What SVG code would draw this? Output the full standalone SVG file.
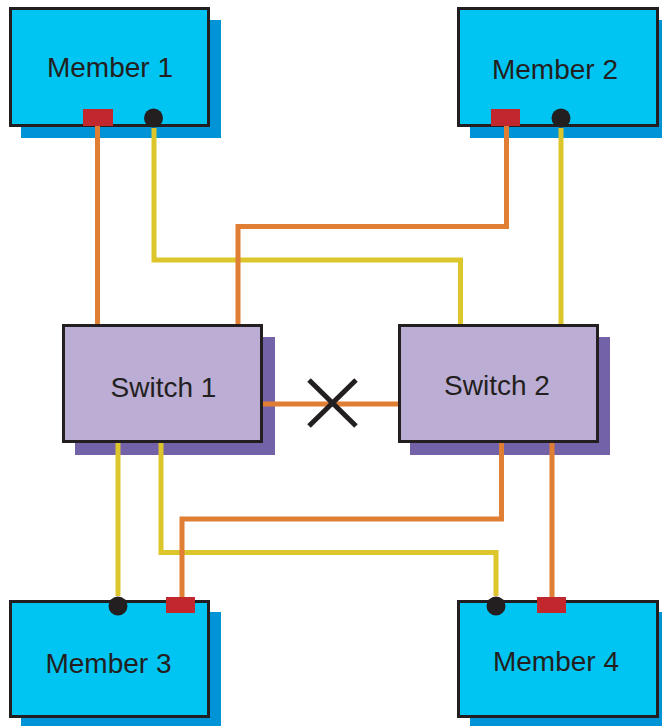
<svg xmlns="http://www.w3.org/2000/svg" width="662" height="726" viewBox="0 0 662 726">
  <style>
    .mshadow { fill: #0093D5; }
    .member { fill: #00C4F2; stroke: #231F20; stroke-width: 3; }
    .sshadow { fill: #7462A8; }
    .switch { fill: #BBADD4; stroke: #231F20; stroke-width: 3; }
    .label { font-family: "Liberation Sans", Arial, sans-serif; font-size: 28px; fill: #231F20; text-anchor: middle; }
    .port { fill: #C1272D; }
    .dot { fill: #231F20; }
    .y { fill: none; stroke: #DDC52C; stroke-width: 5; }
    .o { fill: none; stroke: #E07E33; stroke-width: 5; }
    .x { stroke: #231F20; stroke-width: 5; }
  </style>
  <rect width="662" height="726" fill="#FFFFFF"/>

  <g id="member1">
    <rect class="mshadow" x="21" y="20" width="200" height="118"/>
    <rect class="member" x="10.5" y="8.5" width="198" height="117"/>
    <text class="label" x="110" y="77">Member 1</text>
  </g>
  <g id="member2">
    <rect class="mshadow" x="470" y="20" width="192" height="118"/>
    <rect class="member" x="458.5" y="8.5" width="199" height="117"/>
    <text class="label" x="555" y="79">Member 2</text>
  </g>
  <g id="switch1">
    <rect class="sshadow" x="75" y="337" width="200" height="118"/>
    <rect class="switch" x="63.5" y="325.5" width="198" height="116"/>
    <text class="label" x="163.5" y="397">Switch 1</text>
  </g>
  <g id="switch2">
    <rect class="sshadow" x="410" y="337" width="200" height="118"/>
    <rect class="switch" x="399.5" y="325.5" width="198" height="116"/>
    <text class="label" x="497" y="395">Switch 2</text>
  </g>
  <g id="member3">
    <rect class="mshadow" x="21" y="612" width="200" height="114"/>
    <rect class="member" x="10.5" y="601.5" width="198" height="115"/>
    <text class="label" x="108.5" y="673">Member 3</text>
  </g>
  <g id="member4">
    <rect class="mshadow" x="470" y="612" width="192" height="114"/>
    <rect class="member" x="458.5" y="601.5" width="199" height="115"/>
    <text class="label" x="556" y="671">Member 4</text>
  </g>

  <g id="connectors">
    <polyline class="y" points="154,128 154,260 460.5,260 460.5,324"/>
    <polyline class="y" points="561,128 561,324"/>
    <polyline class="y" points="118,443 118,596"/>
    <polyline class="y" points="161,443 161,552.5 496,552.5 496,596"/>
    <polyline class="o" points="97.5,126 97.5,324"/>
    <polyline class="o" points="506.5,126 506.5,226.5 238,226.5 238,324"/>
    <polyline class="o" points="263,404 398,404"/>
    <polyline class="o" points="501.5,443 501.5,519 182,519 182,597"/>
    <polyline class="o" points="552,443 552,597"/>
    <g id="break">
      <line class="x" x1="309" y1="380" x2="356" y2="426"/>
      <line class="x" x1="356" y1="380" x2="309" y2="426"/>
    </g>
  </g>

  <g id="ports">
    <rect class="port" x="83" y="109" width="30" height="17"/>
    <circle class="dot" cx="153.5" cy="118" r="9.5"/>
    <rect class="port" x="491" y="109" width="29" height="17"/>
    <circle class="dot" cx="561" cy="118" r="9.5"/>
    <rect class="port" x="166" y="597" width="29" height="16"/>
    <circle class="dot" cx="118" cy="606" r="9.5"/>
    <rect class="port" x="537" y="597" width="29" height="16"/>
    <circle class="dot" cx="496" cy="606" r="9.5"/>
  </g>
</svg>
